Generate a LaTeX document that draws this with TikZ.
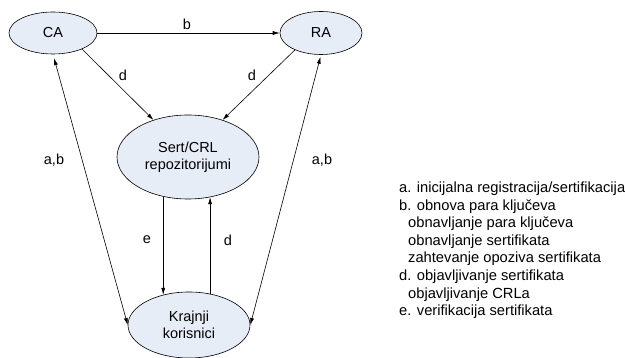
\documentclass[tikz,border=0pt]{standalone}
\usepackage{fontspec}
\setmainfont{Liberation Sans}
\usetikzlibrary{shapes.geometric,arrows.meta}
\definecolor{nodefill}{RGB}{231,237,247}
\tikzset{
  entity/.style={ellipse, draw=black, line width=0.6pt, fill=nodefill,
    inner sep=0pt, align=center, font=\fontsize{14.5}{17}\selectfont},
  conn/.style={draw=black, line width=0.6pt, -{Latex[length=7pt,width=4pt]}},
  biconn/.style={conn, {Latex[length=7pt,width=4pt]}-{Latex[length=7pt,width=4pt]}},
  tag/.style={inner sep=0pt, font=\fontsize{14.5}{17}\selectfont},
  legline/.style={anchor=base west, inner sep=0pt, font=\fontsize{14.7}{17.6}\selectfont}
}
\begin{document}
\begin{tikzpicture}[x=1pt,y=-1pt]
\useasboundingbox (0,0) rectangle (625,358);

% participants
\node[entity, minimum width=88pt, minimum height=42pt] (ca) at (53,33) {CA};
\node[entity, minimum width=82pt, minimum height=43pt] (ra) at (321,33) {RA};
\node[entity, minimum width=142pt, minimum height=84pt] (sert) at (188,157) {Sert/CRL\\repozitorijumi};
\node[entity, minimum width=122pt, minimum height=66pt] (kr) at (189,325) {Krajnji\\korisnici};

% flows
\draw[conn] (ca.east) -- (ra.west);
\draw[conn] (ca.-29) -- (sert.133);
\draw[conn] (ra.-147) -- (sert.47);
\draw[biconn, shorten <=4pt] (ca.south) -- (kr.west);
\draw[biconn, shorten <=2pt] (ra.south) -- (kr.east);
\draw[conn] (sert.-122) -- (sert.-122 |- kr.131);
\draw[conn] (kr.56) -- (kr.56 |- sert.-61);

% flow labels
\node[tag] (lb) at (187,24) {b};
\node[tag] (ld1) at (123,75) {d};
\node[tag] (ld2) at (252,75) {d};
\node[tag] (lab1) at (54,160) {a,b};
\node[tag] (lab2) at (322,160) {a,b};
\node[tag] (le) at (147,240) {e};
\node[tag] (ld3) at (228,240) {d};

% legend: lettered entries, continuation lines slightly indented
\node[legline] (g1) at (399,192.5) {a. inicijalna registracija/sertifikacija};
\node[legline] (g2) at (399,210.1) {b. obnova para ključeva};
\node[legline] (g3) at (408,227.7) {obnavljanje para ključeva};
\node[legline] (g4) at (408,245.3) {obnavljanje sertifikata};
\node[legline] (g5) at (408,262.9) {zahtevanje opoziva sertifikata};
\node[legline] (g6) at (399,280.5) {d. objavljivanje sertifikata};
\node[legline] (g7) at (408,298.1) {objavljivanje CRLa};
\node[legline] (g8) at (399,315.7) {e. verifikacija sertifikata};
\end{tikzpicture}
\end{document}
